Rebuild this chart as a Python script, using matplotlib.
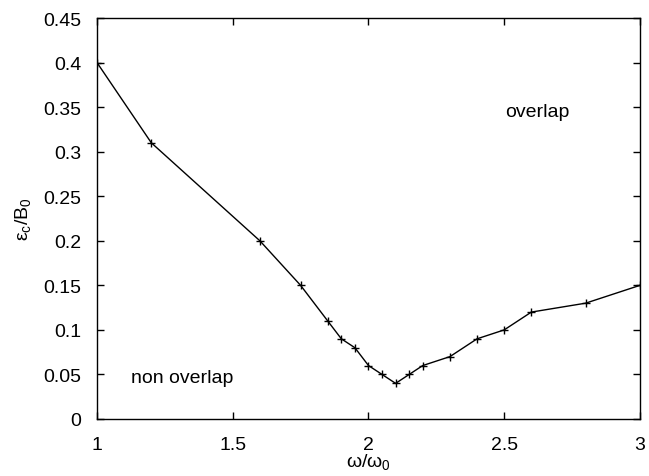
import numpy as np
import matplotlib
matplotlib.use('Agg')
import matplotlib.pyplot as plt

plt.rcParams['font.family'] = ['Liberation Sans', 'DejaVu Sans']
plt.rcParams['mathtext.fontset'] = 'custom'
plt.rcParams['mathtext.rm'] = 'Liberation Sans'
plt.rcParams['mathtext.it'] = 'Liberation Sans'

# omega / omega_0
w_ratio = [1.0, 1.2, 1.6, 1.75, 1.85, 1.9, 1.95, 2.0, 2.05, 2.1, 2.15, 2.2, 2.3, 2.4, 2.5, 2.6, 2.8, 3.0]
# eps_c / B_0
eps_c = [0.4, 0.31, 0.2, 0.15, 0.11, 0.09, 0.08, 0.06, 0.05, 0.04, 0.05, 0.06, 0.07, 0.09, 0.1, 0.12, 0.13, 0.15]

x_ticks = [1, 1.5, 2, 2.5, 3]
x_ticklabels = ['1', '1.5', '2', '2.5', '3']
y_ticks = [0, 0.05, 0.1, 0.15, 0.2, 0.25, 0.3, 0.35, 0.4, 0.45]
y_ticklabels = ['0', '0.05', '0.1', '0.15', '0.2', '0.25', '0.3', '0.35', '0.4', '0.45']

fs = 14

fig = plt.figure(figsize=(6.49, 4.77), dpi=100)
ax = fig.add_axes([0.1495, 0.1195, 0.8365, 0.8405])

ax.plot(w_ratio, eps_c, color='black', linewidth=1, marker='+', markersize=6, markeredgewidth=1)

ax.set_xlim(1, 3)
ax.set_ylim(0, 0.45)
ax.set_xticks(x_ticks)
ax.set_xticklabels(x_ticklabels)
ax.set_yticks(y_ticks)
ax.set_yticklabels(y_ticklabels)
ax.tick_params(direction='in', length=5, width=1, top=True, right=True, labelsize=fs)
ax.tick_params(axis='x', pad=12)
ax.tick_params(axis='y', pad=11.5)
for s in ax.spines.values():
    s.set_linewidth(1)

ax.set_xlabel(r'$\omega/\omega_0$', fontsize=fs, va='top')
ax.xaxis.set_label_coords(0.5, -0.08)
ax.set_ylabel(r'$\epsilon_c/\mathrm{B}_0$', fontsize=fs)
ax.yaxis.set_label_coords(-0.118, 0.5)

ax.text(2.503, 0.340, 'overlap', fontsize=fs)
ax.text(1.125, 0.0415, 'non overlap', fontsize=fs)

fig.savefig('out.png', dpi=100)
